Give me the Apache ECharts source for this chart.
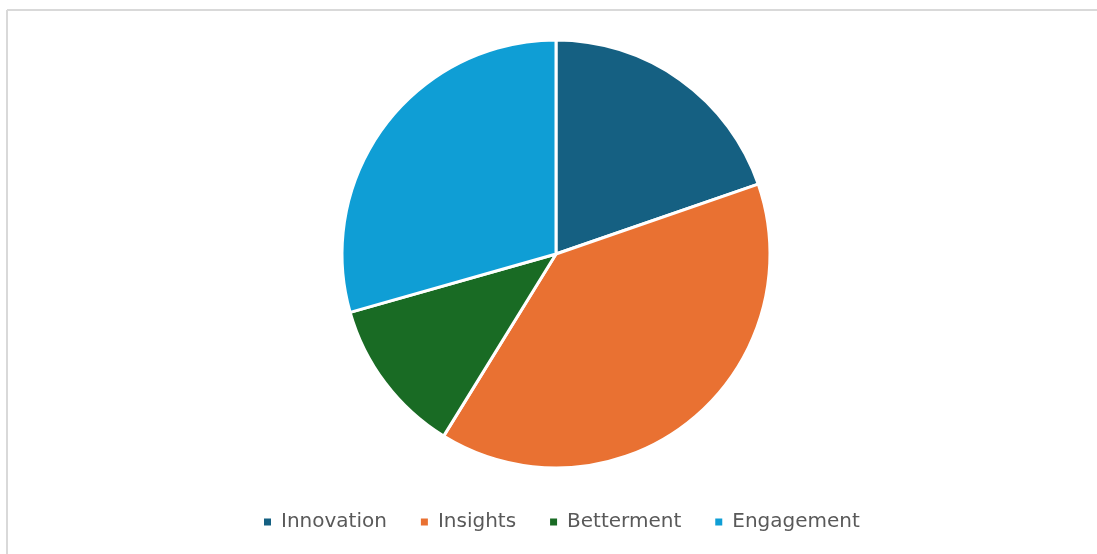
<!DOCTYPE html>
<html>
<head>
<meta charset="utf-8">
<script src="https://cdn.jsdelivr.net/npm/echarts@6/dist/echarts.min.js"></script>
<style>
  html, body { margin: 0; padding: 0; background: #fff; }
  #chart { width: 1097px; height: 554px; }
</style>
</head>
<body>
<div id="chart"></div>
<script>
// Share of each focus area
const categories = ['Innovation', 'Insights', 'Betterment', 'Engagement'];
const shares = [19.7, 39.1, 11.8, 29.4];
const colors = ['#156082', '#E97132', '#196B24', '#0F9ED5'];

const chart = echarts.init(document.getElementById('chart'), null, { renderer: 'canvas' });

chart.setOption({
  animation: false,
  color: colors,
  graphic: [
    { type: 'line', shape: { x1: 7, y1: 10, x2: 1097, y2: 10 }, style: { stroke: '#d9d9d9', lineWidth: 2 } },
    { type: 'line', shape: { x1: 7, y1: 10, x2: 7, y2: 554 }, style: { stroke: '#d9d9d9', lineWidth: 2 } }
  ],
  legend: {
    bottom: 17,
    left: 257,
    icon: 'rect',
    itemWidth: 9,
    itemHeight: 9,
    itemGap: 32,
    textStyle: { color: '#595959', fontSize: 20, fontFamily: 'DejaVu Sans', padding: [0, 0, 0, 4] },
    data: categories
  },
  series: [{
    type: 'pie',
    center: [556, 254],
    radius: 214,
    startAngle: 90,
    clockwise: true,
    label: { show: false },
    labelLine: { show: false },
    emphasis: { disabled: true },
    itemStyle: { borderColor: '#ffffff', borderWidth: 3 },
    data: categories.map((name, i) => ({ name, value: shares[i] }))
  }]
});
</script>
</body>
</html>
